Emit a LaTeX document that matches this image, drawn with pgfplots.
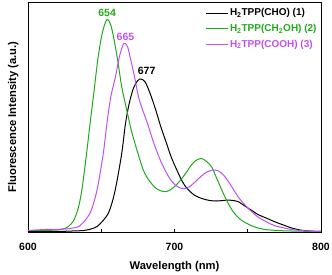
\documentclass[border=0pt]{standalone}
\usepackage{fontspec}
\setmainfont{Liberation Sans}
\usepackage{pgfplots}
\pgfplotsset{compat=1.18}
\definecolor{grn}{RGB}{34,168,28}
\definecolor{mag}{RGB}{192,80,240}
\begin{document}
\begin{tikzpicture}
\begin{axis}[
  scale only axis, width=293pt, height=230pt,
  xmin=600, xmax=800, ymin=0, ymax=230,
  ytick=\empty, xtick={600,700,800}, minor xtick={650,750},
  xtick pos=bottom, tick align=inside,
  major tick length=3pt, minor tick length=3pt,
  /pgf/number format/assume math mode=true,
  ticklabel style={font=\fontsize{10.5}{12}\selectfont\bfseries},
  xticklabel style={yshift=-8pt},
  xlabel={Wavelength (nm)}, ylabel={Fluorescence Intensity (a.u.)},
  label style={font=\fontsize{11.2}{13}\selectfont\bfseries},
  xlabel style={yshift=-4pt},
  ylabel style={yshift=6pt},
  axis line style={line width=0.8pt},
  every tick/.style={line width=0.7pt,black},
  legend style={at={(rel axis cs:0.6,0.985)}, anchor=north west, draw=none, fill=none,
    font=\fontsize{10}{12}\selectfont\bfseries, row sep=3pt, inner sep=1pt},
  legend cell align=left,
  legend image code/.code={\draw[#1] (0pt,0pt) -- (22pt,0pt);},
]
\coordinate (sw) at (rel axis cs:0,0);
\coordinate (ne) at (rel axis cs:1,1);
\addplot[black, line width=1pt, smooth] coordinates {
(600,0.3)(620,0.5)(630,1)(638,1.5)(643,3)(646.9,5.3)(651,11)(654.8,18.7)(657.5,30)(660,45.3)
(664,78.7)(666.5,108)(669,128)(672,144)(675,151.5)(677,153)(680,150)(683.5,138)(687.2,122)
(690.5,106)(694.7,88)(698,74)(703.8,55)(707,46.5)(710.6,40.5)(714,36.5)(718.6,33.5)(724,31.5)
(728.8,31)(733,31.5)(737,32)(740,31.5)(743.6,30.3)(747,27)(751.5,22.7)(757,17.5)(763,13.7)
(768,10.5)(774.3,7)(780,4)(785.7,2)(792,1)(800,0.5)};
\addlegendentry{H\textsubscript{2}TPP(CHO) (1)}
\addplot[grn, line width=1pt, smooth] coordinates {
(600,1.5)(610,1.5)(620,2)(625,3.5)(628,6)(631,11)(633.2,18.7)(635,28)(637.1,45.3)(640,78.7)
(642.5,110)(645,140)(647.6,172)(650,194)(652,206)(654,212.5)(656,209)(658,198)(661.2,172)
(664,145)(667.4,122)(670.3,103)(673,88.7)(678.7,62)(683.3,50.3)(688,43)(693,40.3)(697,42)
(701.5,47.5)(705,53.5)(708,59.5)(711,66)(714.5,71.5)(718.3,73.5)(721.5,71)(725.4,65)(729,53)
(733.3,38.7)(736.5,29)(740.1,20.3)(745,12.5)(751.5,7)(757,4)(763,2.3)(775,1.2)(790,0.7)(800,0.5)};
\addlegendentry{\textcolor{grn}{H\textsubscript{2}TPP(CH\textsubscript{2}OH) (2)}}
\addplot[mag, line width=1pt, smooth] coordinates {
(600,1.5)(605,2)(612,2.5)(620,2.7)(626,3)(630,3.8)(634.4,5.3)(638,10)(642.3,18.7)(645,30)
(647.6,45.3)(651.4,78.7)(654,110)(656.5,135)(659.8,156)(662.5,176)(665.5,188.7)(668,185)
(670,173)(672.6,156)(676,132)(681.7,108)(685.6,90)(690,73)(693.5,62)(697,53)(700.5,47)
(704,44)(707,43.5)(710,45)(714,50)(718,55.5)(722,60)(726.5,62)(730,61)(733.5,57)(737,50)
(740.5,42)(744,34)(747.5,28)(751.5,22)(757,15)(763,10)(768,6.5)(774.3,4.2)(780,2.5)(786,1.5)
(793,0.8)(800,0.5)};
\addlegendentry{\textcolor{mag}{H\textsubscript{2}TPP(COOH) (3)}}
\node[grn, font=\fontsize{10.5}{12}\selectfont\bfseries] at (axis cs:654,219.5) {654};
\node[mag, font=\fontsize{10.5}{12}\selectfont\bfseries] at (axis cs:666.5,195.5) {665};
\node[black, font=\fontsize{10.5}{12}\selectfont\bfseries] at (axis cs:681,161) {677};
\end{axis}
\pgfresetboundingbox
\path ([shift={(-28pt,-42pt)}]sw) rectangle ([shift={(11pt,2pt)}]ne);
\end{tikzpicture}
\end{document}
